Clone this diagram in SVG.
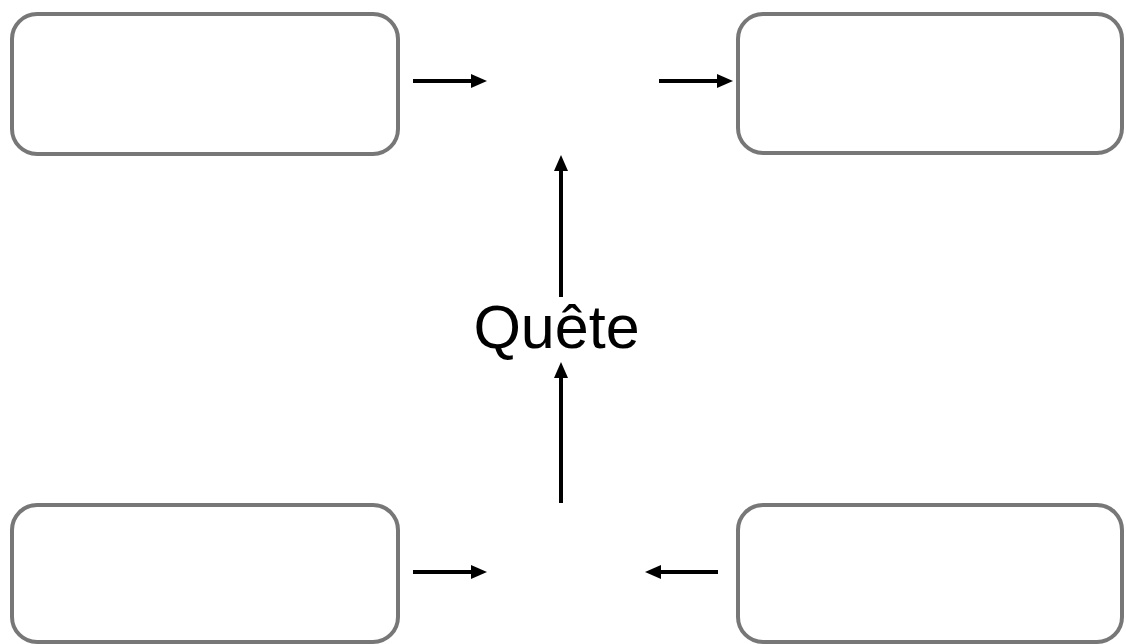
<svg xmlns="http://www.w3.org/2000/svg" width="1126" height="644" viewBox="0 0 1126 644">
  <style>
    .box { fill: #ffffff; stroke: #777777; stroke-width: 4; }
    .conn { fill: none; stroke: #000000; stroke-width: 4; marker-end: url(#arrow); }
    .label { font-family: "Liberation Sans", Arial, sans-serif; font-size: 61px; fill: #000000; text-anchor: middle; }
  </style>
  <defs>
    <marker id="arrow" markerUnits="userSpaceOnUse" markerWidth="16" markerHeight="14" viewBox="0 0 16 14" refX="4" refY="7" orient="auto">
      <path d="M0,0 L16,7 L0,14 z" fill="#000000"/>
    </marker>
  </defs>
  <rect width="1126" height="644" fill="#ffffff"/>
  <g id="node-top-left">
    <rect class="box" x="12" y="14" width="386" height="140" rx="25" ry="25"/>
  </g>
  <g id="node-top-right">
    <rect class="box" x="738" y="14" width="384" height="139" rx="25" ry="25"/>
  </g>
  <g id="node-bottom-left">
    <rect class="box" x="12" y="505" width="386" height="137" rx="25" ry="25"/>
  </g>
  <g id="node-bottom-right">
    <rect class="box" x="738" y="505" width="384" height="137" rx="25" ry="25"/>
  </g>
  <g id="node-quete">
    <text class="label" x="556.5" y="348">Quête</text>
  </g>
  <g id="connectors">
    <path class="conn" d="M413,81 L475,81"/>
    <path class="conn" d="M659,81 L721,81"/>
    <path class="conn" d="M561,297 L561,167"/>
    <path class="conn" d="M561,503 L561,374"/>
    <path class="conn" d="M413,572 L475,572"/>
    <path class="conn" d="M718,572 L657,572"/>
  </g>
</svg>
